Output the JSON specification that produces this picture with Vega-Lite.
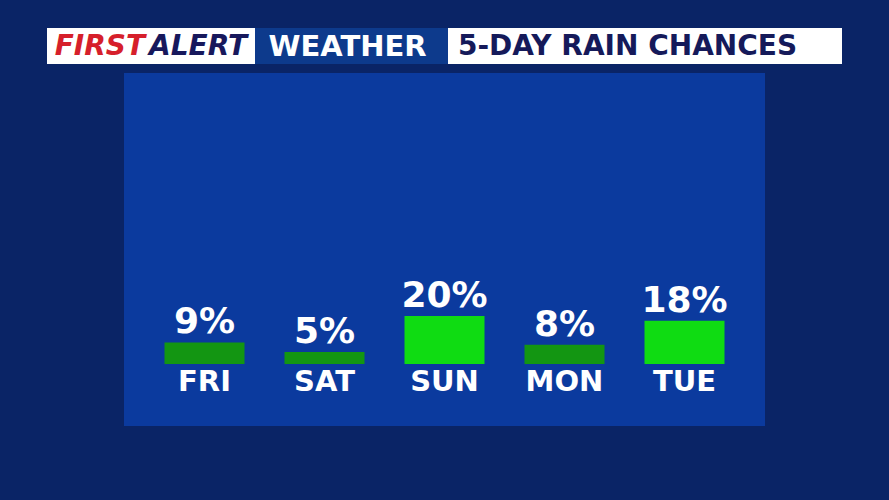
{
  "$schema": "https://vega.github.io/schema/vega-lite/v6.json",
  "background": "#0a2466",
  "padding": {"left": 47, "top": 28, "right": 47, "bottom": 74},
  "config": {
    "view": {"stroke": null},
    "font": "DejaVu Sans",
    "text": {"font": "DejaVu Sans", "fontWeight": "bold"}
  },
  "center": true,
  "spacing": 9,
  "vconcat": [
    {
      "spacing": 0,
      "hconcat": [
        {
          "width": 208,
          "height": 36,
          "view": {"fill": "#ffffff", "stroke": null},
          "data": {"values": [{"a": "FIRST", "b": "ALERT"}]},
          "layer": [
            {
              "mark": {"type": "text", "align": "right", "baseline": "middle", "dx": -6, "dy": 1, "fontSize": 28, "fontStyle": "italic", "fontWeight": "bold", "color": "#d61f2b"},
              "encoding": {"text": {"field": "a"}}
            },
            {
              "mark": {"type": "text", "align": "left", "baseline": "middle", "dx": -2, "dy": 1, "fontSize": 28, "fontStyle": "italic", "fontWeight": "bold", "color": "#17185c"},
              "encoding": {"text": {"field": "b"}}
            }
          ]
        },
        {
          "width": 193,
          "height": 36,
          "view": {"fill": "#0d3a8c", "stroke": null},
          "data": {"values": [{"t": "WEATHER"}]},
          "mark": {"type": "text", "align": "center", "baseline": "middle", "dx": -4, "dy": 1, "fontSize": 29, "fontWeight": "bold", "color": "#ffffff"},
          "encoding": {"text": {"field": "t"}}
        },
        {
          "width": 394,
          "height": 36,
          "view": {"fill": "#ffffff", "stroke": null},
          "data": {"values": [{"t": "5-DAY RAIN CHANCES"}]},
          "mark": {"type": "text", "align": "left", "baseline": "middle", "dx": -187, "dy": 1, "fontSize": 28, "fontWeight": "bold", "color": "#151a5a"},
          "encoding": {"text": {"field": "t"}}
        }
      ]
    },
    {
      "width": 641,
      "height": 353,
      "view": {"fill": "#0b3a9e", "stroke": null},
      "data": {"values": [
        {"day": "FRI", "chance": 0.09},
        {"day": "SAT", "chance": 0.05},
        {"day": "SUN", "chance": 0.20},
        {"day": "MON", "chance": 0.08},
        {"day": "TUE", "chance": 0.18}
      ]},
      "encoding": {
        "x": {"field": "day", "type": "nominal", "sort": null, "axis": null,
              "scale": {"paddingInner": 0.3333, "paddingOuter": 0.3375}}
      },
      "layer": [
        {
          "mark": {"type": "bar"},
          "encoding": {
            "y": {"field": "chance", "type": "quantitative", "axis": null,
                  "scale": {"domain": [-0.2583, 1.2125], "nice": false, "zero": false}},
            "y2": {"datum": 0},
            "color": {"condition": {"test": "datum.chance >= 0.15", "value": "#0fdc12"}, "value": "#139612"}
          }
        },
        {
          "mark": {"type": "text", "baseline": "alphabetic", "dy": -9, "fontSize": 36, "fontWeight": "bold", "color": "#ffffff"},
          "encoding": {
            "y": {"field": "chance", "type": "quantitative"},
            "text": {"field": "chance", "type": "quantitative", "format": ".0%"}
          }
        },
        {
          "mark": {"type": "text", "baseline": "alphabetic", "dy": 27, "fontSize": 29, "fontWeight": "bold", "color": "#ffffff"},
          "encoding": {
            "y": {"datum": 0},
            "text": {"field": "day"}
          }
        }
      ]
    }
  ]
}
